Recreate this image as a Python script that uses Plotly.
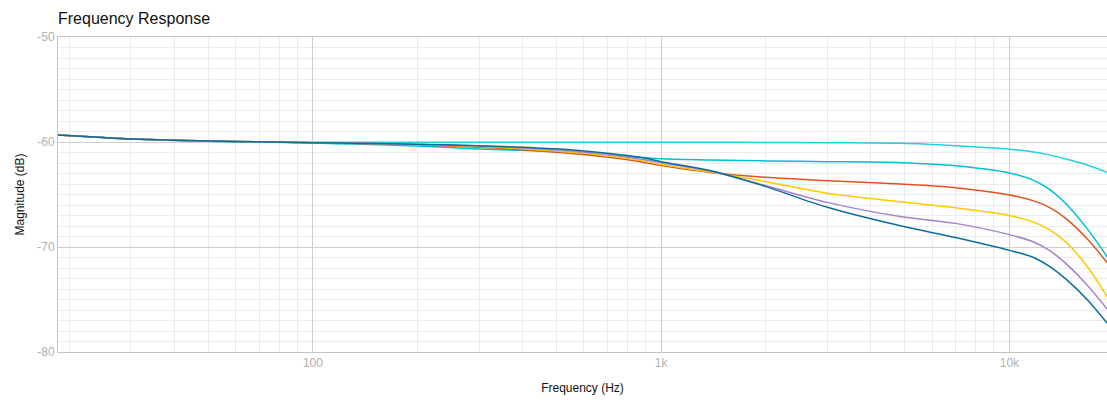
import plotly.graph_objects as go
import math

freq = [18.5, 25, 30, 40, 60, 100, 130, 200, 300, 500, 700, 870, 1000, 1400,
        2000, 3000, 4860, 7000, 10000, 11740, 13100, 14650, 16720, 19100]

s1 = [-59.33, -59.58, -59.71, -59.84, -59.96, -60.03, -60.03, -60.03, -60.03, -60.03, -60.03, -60.03,
      -60.03, -60.03, -60.04, -60.06, -60.12, -60.35, -60.68, -60.95, -61.25, -61.65, -62.19, -62.89]
s2 = [-59.33, -59.58, -59.71, -59.85, -59.98, -60.10, -60.20, -60.38, -60.67, -60.90, -61.30, -61.46,
      -61.60, -61.71, -61.80, -61.87, -61.97, -62.26, -62.95, -63.65, -64.56, -66.00, -68.25, -70.95]
s3 = [-59.33, -59.58, -59.71, -59.84, -59.96, -60.06, -60.12, -60.28, -60.50, -60.98, -61.43, -61.88,
      -62.25, -62.92, -63.36, -63.68, -64.00, -64.35, -65.05, -65.61, -66.27, -67.39, -69.22, -71.50]
s4 = [-59.33, -59.58, -59.71, -59.84, -59.96, -60.06, -60.12, -60.25, -60.43, -60.86, -61.30, -61.75,
      -62.13, -62.89, -63.78, -64.89, -65.70, -66.26, -67.00, -67.63, -68.39, -69.65, -71.83, -74.74]
s5 = [-59.33, -59.58, -59.71, -59.84, -59.96, -60.06, -60.12, -60.23, -60.38, -60.75, -61.17, -61.62,
      -61.97, -62.80, -64.16, -65.75, -67.10, -67.75, -68.82, -69.52, -70.37, -71.68, -73.63, -75.94]
s6 = [-59.33, -59.58, -59.71, -59.84, -59.96, -60.06, -60.12, -60.22, -60.35, -60.65, -61.08, -61.46,
      -61.87, -62.76, -64.25, -66.22, -67.98, -69.10, -70.32, -71.00, -71.90, -73.15, -75.00, -77.27]

series = [s1, s2, s3, s4, s5, s6]
colors = ['#22d0e4', '#00bfd6', '#e0531d', '#ffc800', '#a384cf', '#0b6e9a']

x_major = [100, 1000, 10000]
x_major_text = ['100', '1k', '10k']
x_minor = [d * m for m in (10, 100, 1000, 10000) for d in range(2, 10) if d * m not in x_major]

fig = go.Figure()
for s, c in zip(series, colors):
    fig.add_trace(go.Scatter(x=freq, y=s, mode='lines',
                             line=dict(color=c, width=1.5, shape='spline', smoothing=0.9),
                             showlegend=False, hoverinfo='skip'))

fig.update_layout(
    width=1107, height=402,
    margin=dict(l=58, r=0, t=37, b=50),
    paper_bgcolor='white', plot_bgcolor='white',
    font=dict(family='Liberation Sans, Arial, sans-serif', size=12, color='#222'),
    title=dict(text='Frequency Response', x=58 / 1107, xanchor='left', y=1 - 18 / 402, yanchor='middle',
               font=dict(size=16, color='#111')),
    xaxis=dict(type='log', range=[math.log10(18.53), math.log10(19070)],
               tickmode='array', tickvals=x_major, ticktext=x_major_text,
               tickfont=dict(color='#b0b0b0', size=12), ticks='', ticklen=0,
               showgrid=True, gridcolor='#cfcfcf', gridwidth=1,
               minor=dict(tickmode='array', tickvals=x_minor, showgrid=True, gridcolor='#ebebeb', gridwidth=1),
               showline=True, linecolor='#c4c4c4', linewidth=1, mirror=True,
               zeroline=False,
               title=dict(text='Frequency (Hz)', font=dict(size=12, color='#111'), standoff=14)),
    yaxis=dict(range=[-80, -50], tickmode='array', tickvals=[-80, -70, -60, -50],
               ticktext=['-80', '-70', '-60', '-50'],
               tickfont=dict(color='#b0b0b0', size=12), ticks='', ticklen=0,
               showgrid=True, gridcolor='#cfcfcf', gridwidth=1,
               minor=dict(dtick=1, showgrid=True, gridcolor='#ebebeb', gridwidth=1),
               showline=True, linecolor='#c4c4c4', linewidth=1, mirror=True,
               zeroline=False,
               title=dict(text='Magnitude (dB)', font=dict(size=12, color='#111'), standoff=10)),
)

fig.write_html('out.html')
